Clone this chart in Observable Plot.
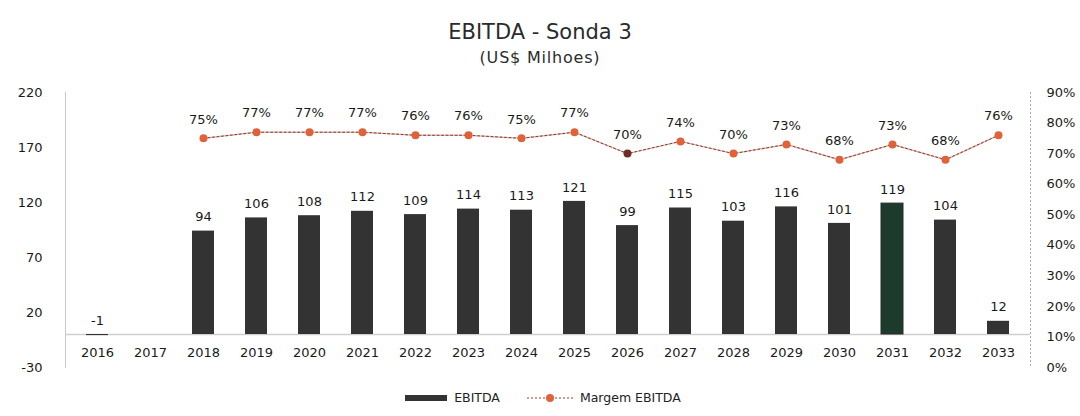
<!DOCTYPE html>
<html><head><meta charset="utf-8">
<script src="https://cdn.jsdelivr.net/npm/d3@7"></script>
<script src="https://cdn.jsdelivr.net/npm/@observablehq/plot@0.6"></script>
<style>
body{margin:0;background:#fff;font-family:"DejaVu Sans",sans-serif;color:#222}
#wrap{width:1080px;height:416px;position:relative;overflow:hidden;background:#fff}
#title{position:absolute;top:19px;left:0;width:1080px;text-align:center;font-size:21px;line-height:26px;color:#2b2b2b}
#sub{position:absolute;top:48px;left:0;width:1080px;text-align:center;font-size:16px;line-height:20px;letter-spacing:0.8px;color:#2b2b2b}
#chart{position:absolute;top:70px;left:0}
#legend{position:absolute;top:390px;left:0;width:1080px;display:flex;justify-content:center;align-items:center;font-size:12.5px;color:#222;padding-left:6px;box-sizing:border-box}
.sw{display:inline-block;width:42px;height:6px;background:#333;margin-right:7px}
.lg{display:flex;align-items:center}
</style>
</head><body>
<div id="wrap">
  <div id="title">EBITDA - Sonda 3</div>
  <div id="sub">(US$ Milhoes)</div>
  <div id="chart"></div>
  <div id="legend">
    <span class="lg"><span class="sw"></span>EBITDA</span>
    <span class="lg" style="margin-left:26px"><svg width="50" height="12" style="margin-right:4px"><line x1="1" y1="6" x2="49" y2="6" stroke="#9a3b30" stroke-dasharray="2,2"/><circle cx="24" cy="6" r="4" fill="#e0623a"/></svg>Margem EBITDA</span>
  </div>
</div>
<script>
const years = ["2016","2017","2018","2019","2020","2021","2022","2023","2024","2025","2026","2027","2028","2029","2030","2031","2032","2033"];
const ebitda = [-1, null, 94, 106, 108, 112, 109, 114, 113, 121, 99, 115, 103, 116, 101, 119, 104, 12];
const margem = [null, null, 75, 77, 77, 77, 76, 76, 75, 77, 70, 74, 70, 73, 68, 73, 68, 76];
const yTicks = [-30, 20, 70, 120, 170, 220];
const pctTicks = [0, 10, 20, 30, 40, 50, 60, 70, 80, 90];

const yMin = -30, yMax = 220, pMax = 90;
const toY = p => yMin + p / pMax * (yMax - yMin);
const toP = v => Math.round((v - yMin) * pMax / (yMax - yMin));

const rows = years.map((y, i) => ({year: y, v: ebitda[i], m: margem[i]}));
const bars = rows.filter(d => d.v != null);
const pts = rows.filter(d => d.m != null);

const chart = Plot.plot({
  width: 1080, height: 310,
  marginTop: 22, marginBottom: 13, marginLeft: 65, marginRight: 50,
  style: {fontFamily: '"DejaVu Sans", sans-serif', fontSize: "13px", color: "#1a1a1a", background: "#fff"},
  x: {type: "band", domain: years, paddingInner: 0.59, paddingOuter: 0.295, label: null},
  y: {domain: [yMin, yMax], label: null},
  color: {type: "identity"},
  marks: [
    Plot.frame({anchor: "left", stroke: "#c8c8c8"}),
    Plot.frame({anchor: "right", stroke: "#aaa", strokeDasharray: "1,3"}),
    Plot.ruleY([0], {stroke: "#cfcfcf", strokeWidth: 1.5}),
    Plot.barY(bars, {x: "year", y: "v", fill: d => d.year === "2031" ? "#1d3b2c" : "#333333", stroke: d => d.year === "2031" ? "#2a2a2a" : "none"}),
    Plot.text(bars, {x: "year", y: d => Math.max(d.v, 0), text: d => String(d.v), dy: -14, fill: "#1a1a1a"}),
    Plot.line(pts, {x: "year", y: d => toY(d.m), stroke: "#dcc0b8", strokeWidth: 1.5}),
    Plot.line(pts, {x: "year", y: d => toY(d.m), stroke: "#8a3a30", strokeWidth: 1, strokeDasharray: "2,2.5"}),
    Plot.dot(pts, {x: "year", y: d => toY(d.m), r: 4, fill: d => d.year === "2026" ? "#6e2e24" : "#e0623a", stroke: "none"}),
    Plot.text(pts, {x: "year", y: d => toY(d.m), text: d => d.m + "%", dy: -19, fill: "#1a1a1a"}),
    Plot.axisY(yTicks, {anchor: "left", tickSize: 0, tickPadding: 23, tickFormat: d => String(d), label: null}),
    Plot.axisY(pctTicks.map(toY), {anchor: "right", tickSize: 0, tickPadding: 16, tickFormat: v => toP(v) + "%", label: null}),
    Plot.axisX({anchor: "bottom", tickSize: 0, tickPadding: 0, dy: -20, label: null})
  ]
});
document.getElementById("chart").appendChild(chart);
</script>
</body></html>
